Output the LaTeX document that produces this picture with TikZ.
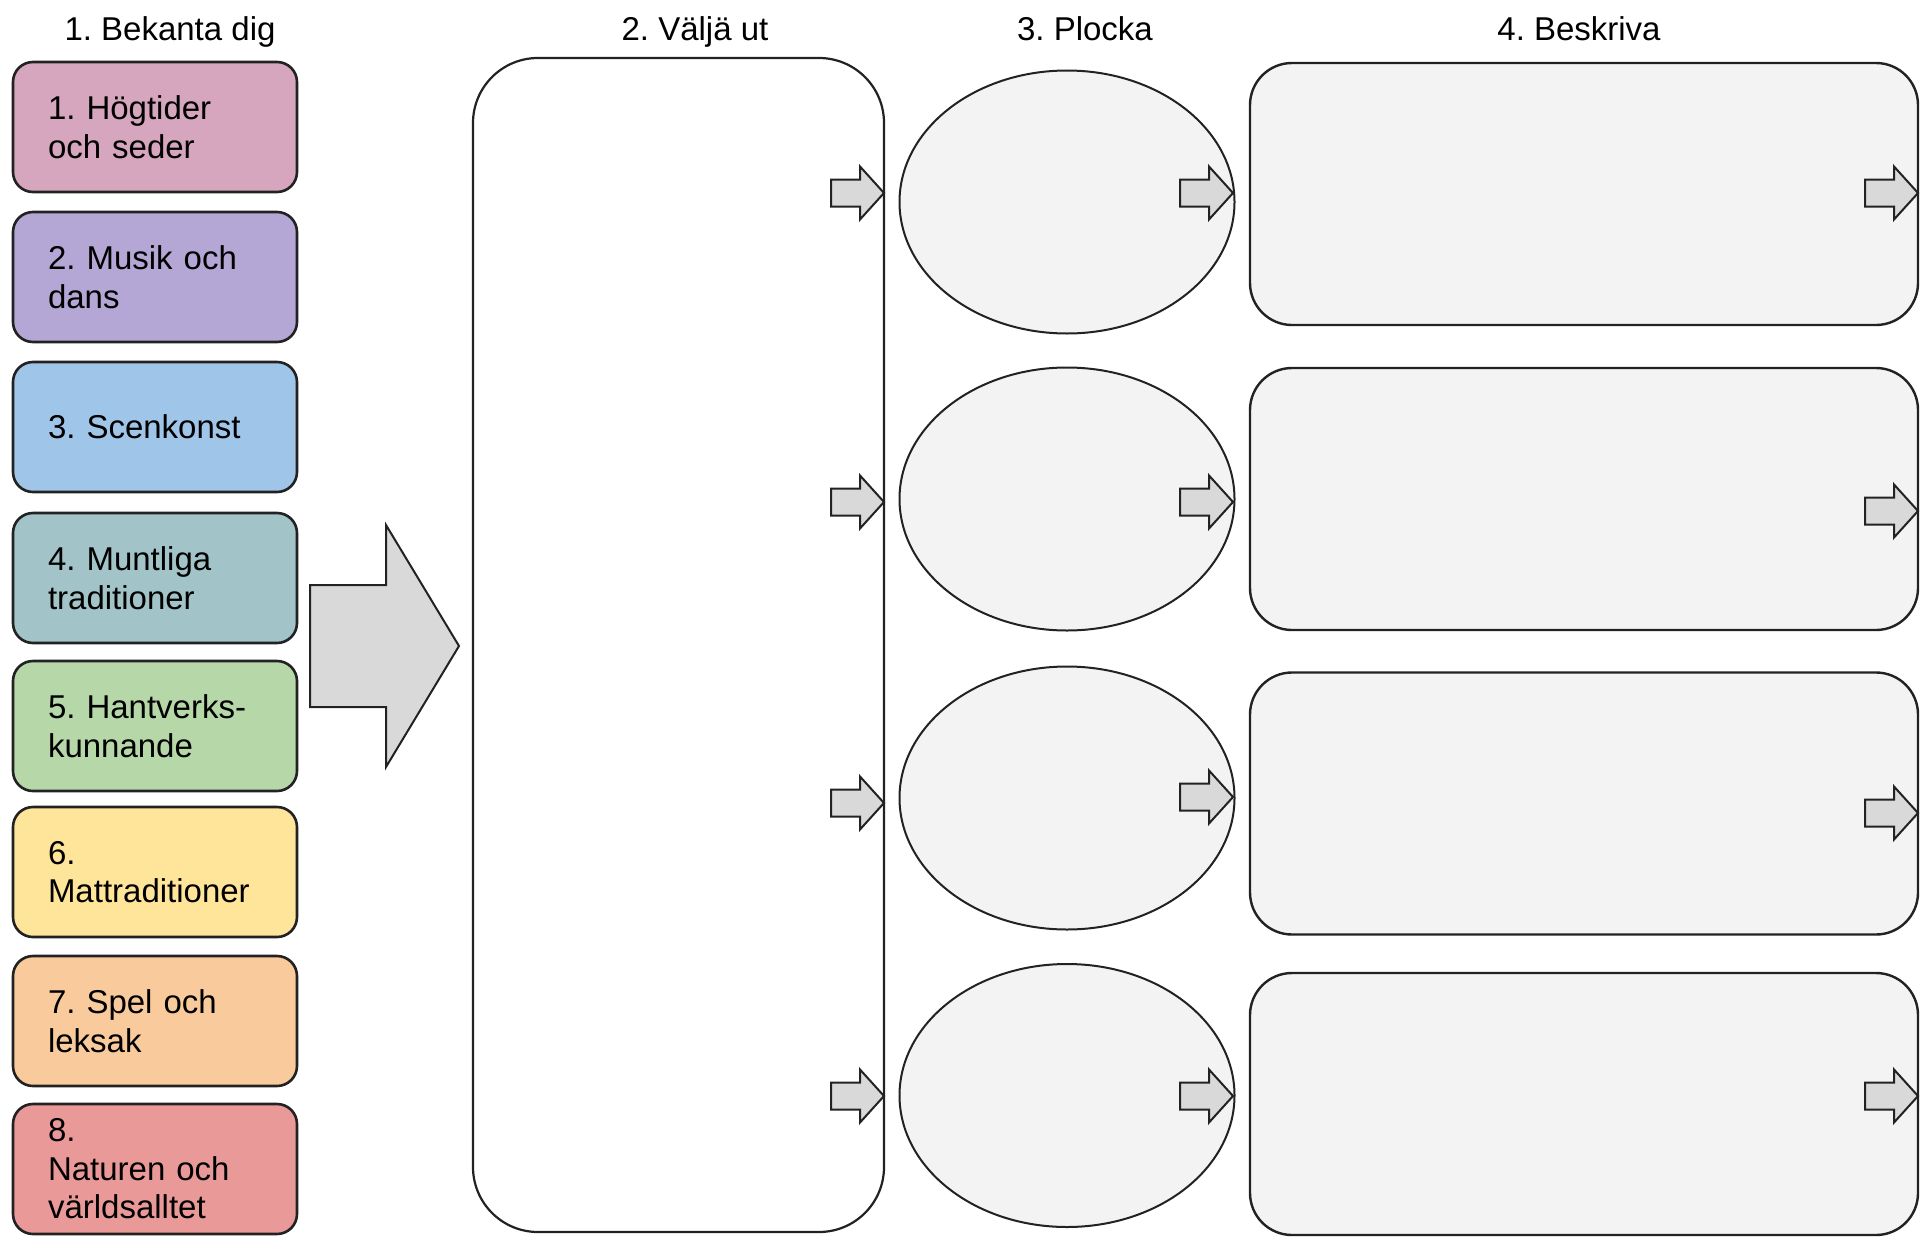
\documentclass[tikz,border=0pt]{standalone}
\usepackage{fontspec}
\setmainfont{Liberation Sans}
\usetikzlibrary{shapes.geometric}
\frenchspacing
\definecolor{edge}{HTML}{222222}
\definecolor{cA}{HTML}{D5A6BD}
\definecolor{cB}{HTML}{B4A7D6}
\definecolor{cC}{HTML}{9FC5E8}
\definecolor{cD}{HTML}{A2C4C9}
\definecolor{cE}{HTML}{B6D7A8}
\definecolor{cF}{HTML}{FFE599}
\definecolor{cG}{HTML}{F9CB9C}
\definecolor{cH}{HTML}{EA9999}
\definecolor{lightfill}{HTML}{F3F3F3}
\definecolor{arrowfill}{HTML}{D9D9D9}
\begin{document}
\frenchspacing
\begin{tikzpicture}[x=1pt,y=-1pt,
  bigfont/.style={font=\fontsize{33}{38.5}\selectfont\frenchspacing},
  title/.style={bigfont, anchor=base, inner sep=0pt},
  catbox/.style={draw=edge, line width=2.6pt, rounded corners=20pt,
    minimum width=284pt, minimum height=130pt, text width=214pt,
    inner xsep=35pt, inner ysep=0pt, align=left, bigfont},
  choosebox/.style={draw=edge, line width=2.2pt, fill=white, rounded corners=65pt,
    minimum width=411pt, minimum height=1174pt, inner sep=0pt},
  pickoval/.style={ellipse, draw=edge, line width=2pt, fill=lightfill,
    minimum width=335pt, minimum height=263pt, inner sep=0pt},
  descbox/.style={draw=edge, line width=2.4pt, fill=lightfill, rounded corners=42pt,
    minimum width=668pt, minimum height=262pt, inner sep=0pt},
  blockarrow/.style={draw=edge, line width=2pt, fill=arrowfill, line join=miter},
  sarrow/.pic={\draw[blockarrow] (-53,-13.5) -- (-24,-13.5) -- (-24,-26.5) -- (0,0)
      -- (-24,26.5) -- (-24,13.5) -- (-53,13.5) -- cycle;}
]
\useasboundingbox (0,0) rectangle (1932,1239);
\fill[white] (0,0) rectangle (1932,1239);

% titles
\node[title] (t1) at (170,41) {1. Bekanta dig};
\node[title] (t2) at (695,41) {2. Väljä ut};
\node[title] (t3) at (1085,41) {3. Plocka};
\node[title] (t4) at (1579,41) {4. Beskriva};

% category boxes
\node[catbox, fill=cA] (b1) at (155,127) {1. Högtider\\och seder};
\node[catbox, fill=cB] (b2) at (155,277) {2. Musik och\\dans};
\node[catbox, fill=cC] (b3) at (155,427) {3. Scenkonst};
\node[catbox, fill=cD] (b4) at (155,578) {4. Muntliga\\traditioner};
\node[catbox, fill=cE] (b5) at (155,726) {5. Hantverks-\\kunnande};
\node[catbox, fill=cF] (b6) at (155,872) {6.\\Mattraditioner};
\node[catbox, fill=cG] (b7) at (155,1021) {7. Spel och\\leksak};
\node[catbox, fill=cH] (b8) at (155,1169) {8.\\Naturen och\\världsalltet};

% big arrow
\draw[blockarrow] (310,585) -- (386,585) -- (386,525) -- (459,646)
  -- (386,767) -- (386,707) -- (310,707) -- cycle;

% column 2
\node[choosebox] (choose) at (678.5,645) {};

% column 3
\node[pickoval] (e1) at (1067,202) {};
\node[pickoval] (e2) at (1067,499) {};
\node[pickoval] (e3) at (1067,798) {};
\node[pickoval] (e4) at (1067,1095.5) {};

% column 4
\node[descbox] (r1) at (1584,194) {};
\node[descbox] (r2) at (1584,499) {};
\node[descbox] (r3) at (1584,803.5) {};
\node[descbox] (r4) at (1584,1104) {};

% small arrows
\pic at (884,193) {sarrow};
\pic at (884,502) {sarrow};
\pic at (884,803) {sarrow};
\pic at (884,1096) {sarrow};
\pic at (1233,193) {sarrow};
\pic at (1233,502) {sarrow};
\pic at (1233,797) {sarrow};
\pic at (1233,1096) {sarrow};
\pic at (1918,193) {sarrow};
\pic at (1918,511) {sarrow};
\pic at (1918,813) {sarrow};
\pic at (1918,1096) {sarrow};
\end{tikzpicture}
\end{document}
